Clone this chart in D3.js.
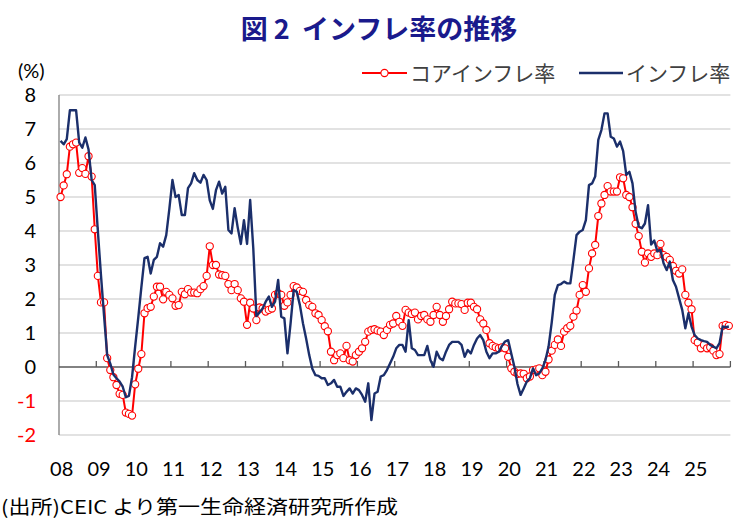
<!DOCTYPE html>
<html>
<head>
<meta charset="utf-8">
<script src="https://cdn.jsdelivr.net/npm/d3@7"></script>
<style>
  body { margin: 0; background: #fff; }
  svg { display: block; }
</style>
</head>
<body>
<svg id="chart" width="738" height="520"></svg>
<script>
// year labels on the x axis (monthly data, Jan 2008 - Dec 2025)
const years = ['08', '09', '10', '11', '12', '13', '14', '15', '16', '17', '18', '19', '20', '21', '22', '23', '24', '25']
const yTicks = [8, 7, 6, 5, 4, 3, 2, 1, 0, -1, -2]

// インフレ率 (headline), % y/y, one row per year
const headline = [
  6.65, 6.55, 6.7, 7.55, 7.55, 7.55, 6.6, 6.45, 6.75, 6.4, 5.5, 5.35,
  4.0, 2.7, 1.5, 0.35, 0.1, -0.22, -0.33, -0.43, -0.58, -0.89, -0.85, -0.3,
  0.6, 1.45, 2.35, 3.2, 3.24, 2.75, 3.15, 3.24, 3.64, 3.54, 3.88, 4.65,
  5.5, 5.0, 5.06, 4.47, 4.47, 5.26, 5.4, 5.7, 5.5, 5.42, 5.65, 5.5,
  4.9, 4.65, 5.2, 5.45, 5.1, 5.3, 4.03, 3.93, 4.67, 4.1, 3.62, 4.32,
  3.62, 4.91, 3.5, 1.5, 1.6, 1.72, 1.92, 2.07, 1.77, 1.92, 2.56, 1.48,
  1.43, 0.4, 1.28, 2.26, 2.21, 1.82, 1.28, 0.84, 0.35, -0.05, -0.24, -0.26,
  -0.33, -0.33, -0.53, -0.48, -0.38, -0.58, -0.58, -0.85, -0.73, -0.63, -0.78, -0.63,
  -0.68, -0.82, -1.02, -0.48, -1.56, -0.78, -0.73, -0.28, -0.24, -0.09, 0.1, 0.3,
  0.55, 0.65, 0.65, 0.45, 1.38, 0.55, 0.5, 0.35, 0.35, 0.35, 0.62, 0.2,
  0.01, 0.45, 0.26, 0.2, 0.45, 0.65, 0.74, 0.74, 0.74, 0.65, 0.3, 0.5,
  0.4, 0.65, 0.84, 0.94, 0.79, 0.45, 0.26, 0.4, 0.4, 0.45, 0.62, 0.75,
  0.79, 0.4, 0.01, -0.5, -0.82, -0.63, -0.43, -0.33, -0.04, -0.24, -0.19, -0.04,
  0.2, 0.6, 1.3, 2.12, 2.41, 2.44, 2.51, 2.46, 2.46, 3.15, 3.88, 3.98,
  4.03, 4.32, 5.35, 5.4, 5.6, 6.68, 6.97, 7.46, 7.46, 6.77, 6.72, 6.48,
  6.63, 6.35, 5.65, 5.74, 5.4, 4.57, 4.13, 4.08, 4.22, 4.76, 3.6, 3.72,
  3.4, 3.45, 3.05, 2.85, 3.1, 2.56, 2.36, 2.02, 1.68, 1.14, 1.58, 1.19,
  0.94, 0.84, 0.79, 0.76, 0.74, 0.65, 0.6, 0.55, 0.7, 1.19, 1.17, 1.19
]

// コアインフレ率 (core), % y/y
const core = [
  5.0, 5.34, 5.67, 6.48, 6.55, 6.6, 5.71, 5.85, 5.68, 6.2, 5.6, 4.05,
  2.68, 1.9, 1.9, 0.26, -0.09, -0.3, -0.53, -0.79, -0.82, -1.34, -1.38, -1.43,
  -0.51, -0.05, 0.38, 1.58, 1.73, 1.77, 2.07, 2.36, 2.36, 1.99, 2.21, 2.12,
  2.02, 1.8, 1.82, 2.21, 2.14, 2.29, 2.19, 2.19, 2.17, 2.29, 2.38, 2.68,
  3.55, 3.0, 3.0, 2.72, 2.7, 2.68, 2.44, 2.26, 2.44, 2.26, 2.02, 1.92,
  1.24, 1.89, 1.72, 1.38, 1.75, 1.72, 1.63, 1.68, 1.72, 2.12, 2.17, 2.12,
  1.8, 1.9, 2.12, 2.38, 2.34, 2.24, 2.21, 1.97, 1.82, 1.77, 1.58, 1.53,
  1.38, 1.2, 1.05, 0.45, 0.2, 0.35, 0.4, 0.26, 0.62, 0.2, 0.16, 0.35,
  0.45, 0.55, 0.74, 1.04, 1.09, 1.11, 1.07, 1.04, 0.94, 1.09, 1.24, 1.28,
  1.5, 1.33, 1.21, 1.68, 1.6, 1.56, 1.6, 1.4, 1.5, 1.53, 1.4, 1.33,
  1.53, 1.77, 1.53, 1.33, 1.5, 1.7, 1.92, 1.87, 1.87, 1.85, 1.68, 1.89,
  1.89, 1.77, 1.7, 1.4, 1.28, 1.09, 0.7, 0.62, 0.58, 0.55, 0.58, 0.55,
  0.3, -0.04, -0.14, -0.2, -0.19, -0.2, -0.33, -0.28, -0.09, -0.07, -0.04, -0.24,
  -0.14, 0.22, 0.48, 0.65, 0.81, 0.62, 1.04, 1.14, 1.21, 1.48, 1.66, 2.12,
  2.41, 2.21, 2.9, 3.34, 3.59, 4.44, 4.81, 5.06, 5.32, 5.16, 5.16, 5.16,
  5.58, 5.55, 5.06, 5.0, 4.7, 4.21, 3.85, 3.39, 3.07, 3.34, 3.24, 3.34,
  3.29, 3.62, 3.29, 3.24, 3.15, 2.97, 2.83, 2.75, 2.87, 2.12, 1.89, 1.7,
  0.79, 0.72, 0.55, 0.65, 0.55, 0.58, 0.48, 0.35, 0.38, 1.21, 1.24, 1.21
]

const svg = d3.select('#chart')
const numFont = 'Lato, "Liberation Sans", sans-serif'
const jpFont = '"Noto Sans CJK JP", sans-serif'

const x = d3.scaleLinear()
  .domain([0, headline.length])
  .range([59, 730.4])

const y = d3.scaleLinear()
  .domain([-2, 8])
  .range([435, 95])

// title
svg.append('text')
  .attr('x', 379)
  .attr('y', 39)
  .attr('text-anchor', 'middle')
  .attr('font-family', jpFont)
  .attr('font-weight', 700)
  .attr('font-size', 27)
  .attr('fill', '#1a1a8c')
  .text('図 2\u00a0\u00a0インフレ率の推移')

svg.append('text')
  .attr('x', 18)
  .attr('y', 78)
  .attr('font-family', numFont)
  .attr('font-size', 20)
  .attr('fill', '#000')
  .text('(%)')

// grid lines
svg.append('g').selectAll('line')
  .data(yTicks.filter(d => d != 0))
  .enter()
  .append('line')
  .attr('x1', x(0))
  .attr('x2', x(headline.length))
  .attr('y1', d => y(d))
  .attr('y2', d => y(d))
  .attr('stroke', '#d9d9d9')
  .attr('stroke-width', 1.3)

// y axis
svg.append('line')
  .attr('x1', x(0)).attr('x2', x(0))
  .attr('y1', y(8)).attr('y2', y(-2))
  .attr('stroke', '#7f7f7f')
  .attr('stroke-width', 1.3)

svg.append('g').selectAll('text')
  .data(yTicks)
  .enter()
  .append('text')
  .attr('x', 36)
  .attr('y', d => y(d))
  .attr('dy', '0.36em')
  .attr('text-anchor', 'end')
  .attr('font-family', numFont)
  .attr('font-size', 20)
  .attr('fill', d => d < 0 ? '#ff0000' : '#000')
  .text(d => d)

// zero line with year ticks
svg.append('line')
  .attr('x1', x(0)).attr('x2', x(headline.length))
  .attr('y1', y(0)).attr('y2', y(0))
  .attr('stroke', '#595959')
  .attr('stroke-width', 1.3)

svg.append('g').selectAll('line')
  .data(d3.range(1, years.length + 1))
  .enter()
  .append('line')
  .attr('x1', d => x(d * 12))
  .attr('x2', d => x(d * 12))
  .attr('y1', y(0))
  .attr('y2', y(0) - 6)
  .attr('stroke', '#595959')
  .attr('stroke-width', 1.3)

svg.append('g').selectAll('text')
  .data(years)
  .enter()
  .append('text')
  .attr('x', (d, i) => x(i * 12) + 2.7)
  .attr('y', 476)
  .attr('text-anchor', 'middle')
  .attr('font-family', numFont)
  .attr('font-size', 20)
  .attr('fill', '#000')
  .text(d => d)

// series
const line = d3.line()
  .x((d, i) => x(i + 0.5))
  .y(d => y(d))

svg.append('path')
  .datum(core)
  .attr('d', line)
  .attr('fill', 'none')
  .attr('stroke', '#ff0000')
  .attr('stroke-width', 2)

svg.append('g').selectAll('circle')
  .data(core)
  .enter()
  .append('circle')
  .attr('cx', (d, i) => x(i + 0.5))
  .attr('cy', d => y(d))
  .attr('r', 3.6)
  .attr('fill', '#fff')
  .attr('stroke', '#ff0000')
  .attr('stroke-width', 1.1)

svg.append('path')
  .datum(headline)
  .attr('d', line)
  .attr('fill', 'none')
  .attr('stroke', '#1b2f6b')
  .attr('stroke-width', 2.4)
  .attr('stroke-linejoin', 'round')

// legend
const legendG = svg.append('g')
legendG.append('line')
  .attr('x1', 362).attr('x2', 407)
  .attr('y1', 73).attr('y2', 73)
  .attr('stroke', '#ff0000')
  .attr('stroke-width', 2)
legendG.append('circle')
  .attr('cx', 384.5).attr('cy', 73).attr('r', 3.6)
  .attr('fill', '#fff')
  .attr('stroke', '#ff0000')
  .attr('stroke-width', 1.1)
legendG.append('text')
  .attr('x', 410).attr('y', 80.5)
  .attr('font-family', jpFont)
  .attr('font-size', 21)
  .attr('fill', '#404040')
  .text('コアインフレ率')
legendG.append('line')
  .attr('x1', 579).attr('x2', 623)
  .attr('y1', 73).attr('y2', 73)
  .attr('stroke', '#1b2f6b')
  .attr('stroke-width', 2.4)
legendG.append('text')
  .attr('x', 626).attr('y', 80.5)
  .attr('font-family', jpFont)
  .attr('font-size', 21)
  .attr('fill', '#404040')
  .text('インフレ率')

// source note
svg.append('text')
  .attr('x', 1)
  .attr('y', 514)
  .attr('font-family', jpFont)
  .attr('font-size', 19)
  .attr('fill', '#000')
  .attr('textLength', 397)
  .attr('lengthAdjust', 'spacingAndGlyphs')
  .text('(出所)CEIC より第一生命経済研究所作成')
</script>
</body>
</html>
